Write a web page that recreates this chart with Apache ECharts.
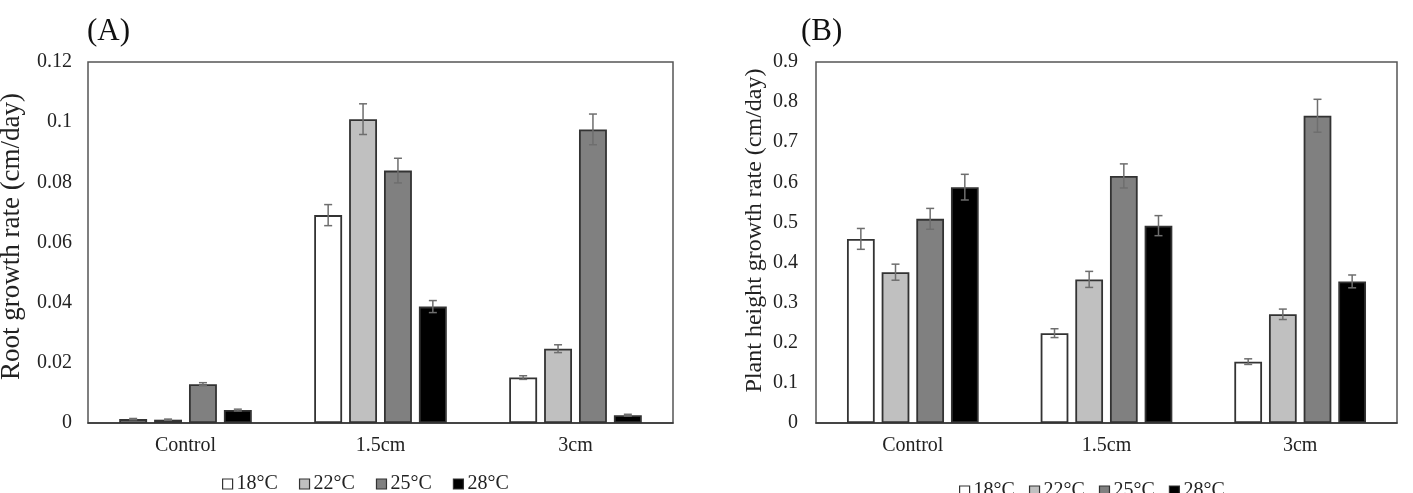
<!DOCTYPE html>
<html>
<head>
<meta charset="utf-8">
<script src="https://cdn.jsdelivr.net/npm/echarts@6/dist/echarts.min.js"></script>
<style>
  html, body { margin: 0; padding: 0; background: #fff; }
  #chart { width: 1413px; height: 493px; }
</style>
</head>
<body>
<div id="chart"></div>
<script>
// 그룹(처리) 이름과 온도 조건
const categories = ['Control', '1.5cm', '3cm'];
const temps = ['18°C', '22°C', '25°C', '28°C'];
const fills = ['#ffffff', '#c0c0c0', '#808080', '#000000'];

// (A) 뿌리 생장률 평균 / 표준오차 (온도별, 카테고리 순서)
const root18 = [0.0013, 0.0691, 0.0151];
const root22 = [0.0011, 0.1010, 0.0247];
const root25 = [0.0129, 0.0839, 0.0976];
const root28 = [0.0043, 0.0387, 0.0026];
const root18Err = [0.0002, 0.0035, 0.0006];
const root22Err = [0.0002, 0.0051, 0.0013];
const root25Err = [0.0005, 0.0041, 0.0051];
const root28Err = [0.0003, 0.0020, 0.0003];

// (B) 초장 생장률 평균 / 표준오차
const height18 = [0.459, 0.224, 0.153];
const height22 = [0.376, 0.358, 0.271];
const height25 = [0.509, 0.616, 0.766];
const height28 = [0.588, 0.492, 0.353];
const height18Err = [0.026, 0.011, 0.007];
const height22Err = [0.020, 0.020, 0.013];
const height25Err = [0.026, 0.030, 0.041];
const height28Err = [0.032, 0.025, 0.016];

const rootMeans = [root18, root22, root25, root28];
const rootErrs = [root18Err, root22Err, root25Err, root28Err];
const heightMeans = [height18, height22, height25, height28];
const heightErrs = [height18Err, height22Err, height25Err, height28Err];

const FONT = 'Liberation Serif';
const TXT = '#222';
const CAT_GAP = 0.32;   // barCategoryGap
const BAR_GAP = 0.25;   // barGap

// 막대 그룹 안에서 i번째 막대의 중심 오프셋(px)
function barOffset(bandWidth, i) {
    const bw = bandWidth * (1 - CAT_GAP) / (4 + 3 * BAR_GAP);
    return (i - 1.5) * bw * (1 + BAR_GAP);
}

function errorSeries(idx, means, errs) {
    return temps.map((t, i) => ({
        type: 'custom',
        xAxisIndex: idx,
        yAxisIndex: idx,
        z: 10,
        silent: true,
        data: categories.map((c, k) => [k, means[i][k] - errs[i][k], means[i][k] + errs[i][k]]),
        renderItem: (params, api) => {
            const band = api.size([1, 0])[0];
            const lo = api.coord([api.value(0), api.value(1)]);
            const hi = api.coord([api.value(0), api.value(2)]);
            const x = lo[0] + barOffset(band, i);
            const w = 4;
            const style = { stroke: '#6e6e6e', lineWidth: 1.5 };
            return {
                type: 'group',
                children: [
                    { type: 'line', shape: { x1: x, y1: lo[1], x2: x, y2: hi[1] }, style },
                    { type: 'line', shape: { x1: x - w, y1: hi[1], x2: x + w, y2: hi[1] }, style },
                    { type: 'line', shape: { x1: x - w, y1: lo[1], x2: x + w, y2: lo[1] }, style }
                ]
            };
        }
    }));
}

function barSeries(idx, means) {
    return temps.map((t, i) => ({
        name: t,
        type: 'bar',
        xAxisIndex: idx,
        yAxisIndex: idx,
        barGap: (BAR_GAP * 100) + '%',
        barCategoryGap: (CAT_GAP * 100) + '%',
        itemStyle: { color: fills[i], borderColor: '#333', borderWidth: 1.8 },
        data: means[i]
    }));
}

const legendBase = {
    data: temps, icon: 'rect', itemWidth: 10, itemHeight: 10,
    itemStyle: { borderColor: '#333', borderWidth: 1.2 },
    textStyle: { fontFamily: FONT, fontSize: 20, color: TXT, padding: [0, 0, 0, -1] }
};

const chart = echarts.init(document.getElementById('chart'));
chart.setOption({
    animation: false,
    textStyle: { fontFamily: FONT },
    title: [
        { text: '(A)', left: 82, top: 11, textStyle: { fontFamily: FONT, fontSize: 31, fontWeight: 'normal', color: '#111' } },
        { text: '(B)', left: 796, top: 11, textStyle: { fontFamily: FONT, fontSize: 31, fontWeight: 'normal', color: '#111' } }
    ],
    legend: [
        Object.assign({}, legendBase, { left: 217, top: 469, itemGap: 21 }),
        Object.assign({}, legendBase, { left: 954, top: 476, itemGap: 14 })
    ],
    grid: [
        { left: 88, top: 62, width: 585, height: 361, show: true, borderColor: '#555', borderWidth: 1.5, outerBoundsMode: 'none' },
        { left: 816, top: 62, width: 581, height: 361, show: true, borderColor: '#555', borderWidth: 1.5, outerBoundsMode: 'none' }
    ],
    xAxis: [0, 1].map(g => ({
        type: 'category',
        gridIndex: g,
        data: categories,
        axisLine: { lineStyle: { color: '#333', width: 1.5 } },
        axisTick: { show: false },
        axisLabel: { fontFamily: FONT, fontSize: 20, color: TXT, margin: 13 }
    })),
    yAxis: [
        {
            type: 'value', gridIndex: 0, min: 0, max: 0.12, interval: 0.02,
            name: 'Root growth rate (cm/day)', nameLocation: 'middle', nameGap: 63,
            nameTextStyle: { fontFamily: FONT, fontSize: 27, color: TXT, padding: [0, 0, 0, 12] },
            axisLine: { show: false }, axisTick: { show: false }, splitLine: { show: false },
            axisLabel: { fontFamily: FONT, fontSize: 20, color: TXT, margin: 16 }
        },
        {
            type: 'value', gridIndex: 1, min: 0, max: 0.9, interval: 0.1,
            name: 'Plant height growth rate (cm/day)', nameLocation: 'middle', nameGap: 49,
            nameTextStyle: { fontFamily: FONT, fontSize: 24, color: TXT, padding: [0, 0, 0, 24] },
            axisLine: { show: false }, axisTick: { show: false }, splitLine: { show: false },
            axisLabel: { fontFamily: FONT, fontSize: 20, color: TXT, margin: 18,
                formatter: v => String(Math.round(v * 10) / 10) }
        }
    ],
    series: [
        ...barSeries(0, rootMeans),
        ...barSeries(1, heightMeans),
        ...errorSeries(0, rootMeans, rootErrs),
        ...errorSeries(1, heightMeans, heightErrs)
    ]
});
</script>
</body>
</html>
